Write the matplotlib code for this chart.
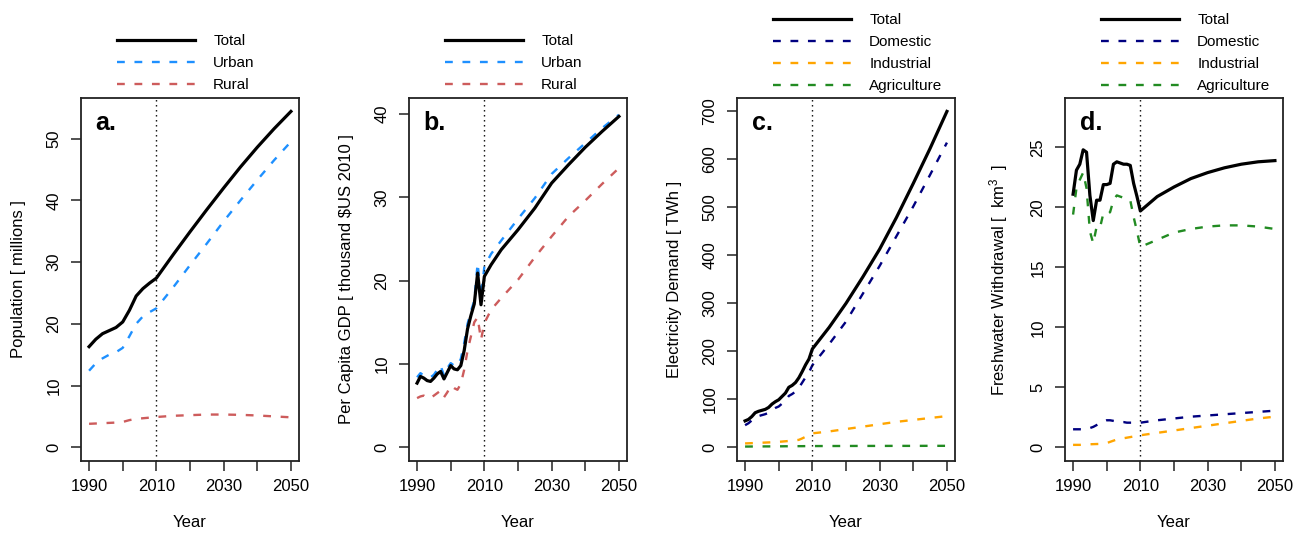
import matplotlib
matplotlib.use("Agg")
import matplotlib.pyplot as plt
from matplotlib.lines import Line2D

plt.rcParams['font.family'] = ['Liberation Sans', 'DejaVu Sans']
plt.rcParams['mathtext.fontset'] = 'custom'
plt.rcParams['mathtext.rm'] = 'Liberation Sans'
plt.rcParams['mathtext.it'] = 'Liberation Sans'

# ---------------- data ----------------
# a. Population [millions]
years_a = [1990, 1992, 1994, 1996, 1998, 2000, 2002, 2004, 2006, 2008, 2010,
           2015, 2020, 2025, 2030, 2035, 2040, 2045, 2050]
pop_total = [16.3, 17.5, 18.4, 18.9, 19.4, 20.3, 22.2, 24.5, 25.7, 26.6, 27.4,
             31.2, 34.9, 38.5, 42.0, 45.4, 48.6, 51.6, 54.4]
pop_urban = [12.4, 13.6, 14.4, 15.0, 15.4, 16.1, 18.0, 20.0, 21.2, 21.9, 22.5,
             25.9, 29.5, 33.0, 36.6, 40.0, 43.3, 46.5, 49.5]
pop_rural = [3.8, 3.85, 3.9, 3.95, 4.0, 4.1, 4.4, 4.6, 4.7, 4.8, 4.9,
             5.1, 5.2, 5.3, 5.3, 5.25, 5.15, 5.0, 4.85]

# b. Per capita GDP [thousand $US 2010]
years_b = [1990, 1991, 1992, 1993, 1994, 1995, 1996, 1997, 1998, 1999, 2000,
           2001, 2002, 2003, 2004, 2005, 2006, 2007, 2008, 2009, 2010,
           2012, 2015, 2020, 2025, 2030, 2035, 2040, 2045, 2050]
gdp_total = [7.7, 8.5, 8.3, 8.0, 7.9, 8.3, 8.8, 9.1, 8.2, 9.0, 9.8,
             9.4, 9.3, 9.8, 11.6, 14.2, 15.8, 17.2, 20.9, 17.1, 20.5,
             21.9, 23.7, 26.1, 28.7, 31.7, 33.9, 36.0, 37.9, 39.7]
gdp_urban = [8.4, 8.9, 8.6, 8.4, 8.4, 8.7, 9.3, 9.8, 8.6, 9.5, 10.1,
             9.8, 9.8, 10.6, 12.5, 14.8, 16.3, 17.6, 22.1, 18.0, 21.7,
             23.2, 24.8, 27.4, 29.9, 32.8, 34.7, 36.5, 38.3, 39.9]
gdp_rural = [5.9, 6.1, 6.2, 5.9, 5.9, 6.2, 6.5, 6.8, 6.0, 6.6, 7.4,
             7.1, 6.9, 7.6, 9.3, 11.6, 13.3, 15.0, 15.6, 12.9, 14.9,
             16.5, 17.9, 20.1, 22.8, 25.3, 27.7, 29.6, 31.6, 33.5]

# c. Electricity demand [TWh]
years_c = [1990, 1991, 1992, 1993, 1994, 1995, 1996, 1997, 1998, 1999, 2000,
           2001, 2002, 2003, 2004, 2005, 2006, 2007, 2008, 2009, 2010,
           2015, 2020, 2025, 2030, 2035, 2040, 2045, 2050]
elec_total = [55, 58, 64, 72, 75, 77, 79, 83, 90, 95, 99,
              106, 113, 125, 129, 135, 145, 158, 172, 184, 205,
              250, 300, 355, 413, 479, 550, 623, 700]
elec_domestic = [46, 50, 56, 62, 65, 67, 69, 72, 78, 82, 85,
                 91, 97, 107, 111, 116, 124, 135, 146, 156, 171,
                 215, 262, 320, 378, 440, 502, 568, 635]
elec_industrial = [8.0, 8.3, 8.6, 8.9, 9.2, 9.5, 9.8, 10.1, 10.4, 10.8, 11.3,
                   11.9, 12.5, 13.1, 13.7, 14.4, 15.5, 18.5, 22.0, 25.5, 29.0,
                   33, 38, 43, 48, 53, 57, 61, 65]
elec_agriculture = [1.5, 1.5, 1.6, 1.6, 1.7, 1.7, 1.8, 1.8, 1.9, 1.9, 2.0,
                    2.0, 2.1, 2.1, 2.2, 2.2, 2.3, 2.3, 2.4, 2.4, 2.5,
                    2.6, 2.7, 2.8, 2.8, 2.9, 2.9, 3.0, 3.0]

# d. Freshwater withdrawal [km3]
years_d = [1990, 1991, 1992, 1993, 1994, 1995, 1996, 1997, 1998, 1999, 2000,
           2001, 2002, 2003, 2004, 2005, 2006, 2007, 2008, 2009, 2010,
           2015, 2020, 2025, 2030, 2035, 2040, 2045, 2050]
water_total = [21.1, 23.1, 23.6, 24.8, 24.6, 21.0, 18.9, 20.6, 20.6, 21.9, 21.9,
               22.0, 23.6, 23.8, 23.7, 23.6, 23.6, 23.5, 22.0, 20.9, 19.7,
               20.9, 21.7, 22.4, 22.9, 23.3, 23.6, 23.8, 23.9]
water_domestic = [1.5, 1.5, 1.5, 1.5, 1.5, 1.6, 1.7, 1.85, 2.0, 2.15, 2.25,
                  2.25, 2.2, 2.15, 2.1, 2.1, 2.05, 2.05, 2.05, 2.05, 2.05,
                  2.25, 2.4, 2.55, 2.65, 2.75, 2.85, 2.95, 3.05]
water_industrial = [0.2, 0.2, 0.2, 0.22, 0.24, 0.25, 0.26, 0.27, 0.28, 0.3, 0.35,
                    0.45, 0.55, 0.65, 0.7, 0.75, 0.8, 0.85, 0.9, 0.95, 1.0,
                    1.2, 1.4, 1.6, 1.8, 2.0, 2.2, 2.4, 2.55]
water_agriculture = [19.4, 21.6, 22.3, 22.9, 21.6, 18.0, 17.0, 18.4, 18.3, 19.5, 19.4,
                     19.6, 20.6, 21.0, 20.9, 20.8, 20.7, 20.6, 19.2, 18.0, 16.7,
                     17.3, 17.9, 18.2, 18.4, 18.5, 18.5, 18.4, 18.2]

# ---------------- styling ----------------
C_TOTAL = 'black'
C_URBAN = '#1E90FF'
C_RURAL = '#CD5C5C'
C_DOM = '#000080'
C_IND = '#FFA500'
C_AGR = '#228B22'
LW_DASH = 1.7
DASH = (3.3, 4.1)
LW_TOTAL = 2.3

W, H = 1304, 533
fig = plt.figure(figsize=(W / 100, H / 100), dpi=100)

box_left = [81, 409, 737, 1065]
box_w = 218
box_top, box_bot = 98, 460.7

panels = [
    dict(letter='a.', years=years_a, ylim=54.4, yticks=range(0, 51, 10),
         ylabel='Population [ millions ]',
         series=[('Total', pop_total, C_TOTAL, True),
                 ('Urban', pop_urban, C_URBAN, False),
                 ('Rural', pop_rural, C_RURAL, False)]),
    dict(letter='b.', years=years_b, ylim=40.3, yticks=range(0, 41, 10),
         ylabel='Per Capita GDP [ thousand $US 2010 ]',
         series=[('Total', gdp_total, C_TOTAL, True),
                 ('Urban', gdp_urban, C_URBAN, False),
                 ('Rural', gdp_rural, C_RURAL, False)]),
    dict(letter='c.', years=years_c, ylim=700, yticks=range(0, 701, 100),
         ylabel='Electricity Demand [ TWh ]',
         series=[('Total', elec_total, C_TOTAL, True),
                 ('Domestic', elec_domestic, C_DOM, False),
                 ('Industrial', elec_industrial, C_IND, False),
                 ('Agriculture', elec_agriculture, C_AGR, False)]),
    dict(letter='d.', years=years_d, ylim=28.0, yticks=range(0, 26, 5),
         ylabel='Freshwater Withdrawal [  km$^{3}$  ]',
         series=[('Total', water_total, C_TOTAL, True),
                 ('Domestic', water_domestic, C_DOM, False),
                 ('Industrial', water_industrial, C_IND, False),
                 ('Agriculture', water_agriculture, C_AGR, False)]),
]

for i, p in enumerate(panels):
    ax = fig.add_axes([box_left[i] / W, 1 - box_bot / H, box_w / W, (box_bot - box_top) / H])
    handles = []
    for name, vals, col, solid in p['series'][1:]:
        ax.plot(p['years'], vals, color=col, lw=LW_DASH, dashes=DASH, label=name)
    for name, vals, col, solid in p['series'][:1]:
        ax.plot(p['years'], vals, color=col, lw=LW_TOTAL, label=name)
    for name, vals, col, solid in p['series']:
        if solid:
            handles.append(Line2D([], [], color=col, lw=LW_TOTAL))
        else:
            handles.append(Line2D([], [], color=col, lw=LW_DASH, dashes=DASH))
    ax.axvline(2010, color='black', lw=1.0, dashes=(1, 2.6))

    pad_x = 0.04 * 60
    ax.set_xlim(1990 - pad_x, 2050 + pad_x)
    pad_y = 0.04 * p['ylim']
    ax.set_ylim(-pad_y, p['ylim'] + pad_y)
    ax.set_xticks([1990, 2000, 2010, 2020, 2030, 2040, 2050])
    ax.set_xticklabels(['1990', '', '2010', '', '2030', '', '2050'])
    ax.set_yticks(list(p['yticks']))
    ax.set_yticklabels([str(v) for v in p['yticks']])

    for s in ax.spines.values():
        s.set_linewidth(1.3)
        s.set_color('#222222')
    ax.tick_params(axis='both', direction='out', length=7.2, width=1.1,
                   labelsize=12, color='#222222')
    ax.tick_params(axis='x', pad=6.3)
    ax.tick_params(axis='y', pad=7.0, labelrotation=90)
    for lbl in ax.get_yticklabels():
        lbl.set_va('center')

    ax.set_xlabel('Year', fontsize=12)
    ax.xaxis.set_label_coords(0.5, -0.149)
    ax.set_ylabel(p['ylabel'], fontsize=12)
    ax.yaxis.set_label_coords(-0.252, 0.5)

    ax.text(0.067, 0.911, p['letter'], transform=ax.transAxes, fontsize=18,
            fontweight='bold', ha='left', va='baseline')

    labels = [s[0] for s in p['series']]
    n = len(labels)
    top_px = 34 if n == 3 else 13
    ax.legend(handles, labels, loc='upper left',
              bbox_to_anchor=((box_left[i] + 36) / W, 1 - top_px / H),
              bbox_transform=fig.transFigure, frameon=False, fontsize=11,
              handlelength=5.1, handletextpad=1.2, labelspacing=0.53,
              borderpad=0, borderaxespad=0)

fig.savefig('out.png', dpi=100)
